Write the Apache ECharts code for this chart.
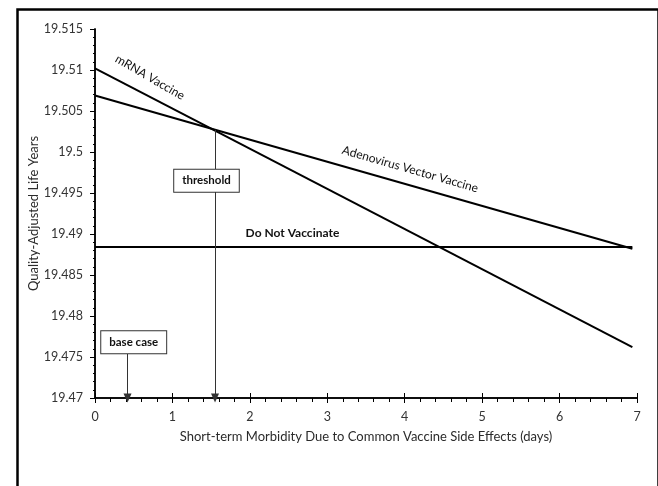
<!DOCTYPE html>
<html lang="en">
<head>
    <meta charset="UTF-8">
    <title>QALY vs short-term morbidity</title>
    <script src="https://cdn.jsdelivr.net/npm/echarts@6/dist/echarts.min.js"></script>
    <style>
        html, body { margin: 0; padding: 0; background: #fff; }
    </style>
</head>
<body>
<div id="main" style="width:658px;height:486px;"></div>
<script>
    // data
    var days = [0, 6.94];
    var mrnaQaly = [19.5102, 19.4762];
    var adenoQaly = [19.5069, 19.4882];
    var noVaxQaly = [19.4884, 19.4884];
    var thresholdPt = [1.55, 19.5027];
    var baseCaseDays = 0.42;

    var font = 'Lato';
    var ink = '#000';

    function pairs(ys) {
        return days.map(function (d, i) { return [d, ys[i]]; });
    }

    // text annotation placed at a data coordinate (rotate: counter-clockwise degrees)
    function tag(text, coord, rot, bold, boxed) {
        var lbl = {
            show: true, position: 'inside', formatter: text,
            fontFamily: font, fontSize: boxed ? 11.5 : 12,
            fontWeight: bold ? 'bold' : 'normal', color: '#111',
            rotate: rot
        };
        if (boxed) {
            lbl.backgroundColor = '#fff';
            lbl.borderColor = '#333';
            lbl.borderWidth = 1;
            lbl.padding = [5, 8, 5, 8];
        }
        return { coord: coord, symbolSize: 0, label: lbl };
    }

    var chart = echarts.init(document.getElementById('main'));

    var baseAxisX = {
        type: 'value', min: 0, max: 7, interval: 1,
        axisLine: { lineStyle: { color: ink, width: 1.5 } },
        splitLine: { show: false }
    };
    var baseAxisY = {
        type: 'value', min: 19.47, max: 19.515, interval: 0.005,
        axisLine: { lineStyle: { color: ink, width: 1.5 } },
        splitLine: { show: false }
    };

    var option = {
        animation: false,
        backgroundColor: '#fff',
        grid: { left: 95, right: 21, top: 29, bottom: 88 },
        graphic: [{
            type: 'rect', left: 15, top: 7,
            shape: { width: 641, height: 500 },
            style: { fill: 'none', stroke: '#000', lineWidth: 2.5 },
            silent: true
        }],
        xAxis: [
            Object.assign({}, baseAxisX, {
                name: 'Short-term Morbidity Due to Common Vaccine Side Effects (days)',
                nameLocation: 'middle', nameGap: 32,
                nameTextStyle: { fontFamily: font, fontSize: 13, color: '#2b2b2b' },
                axisTick: { show: true, length: 5, lineStyle: { color: ink } },
                minorTick: { show: true, splitNumber: 5, length: 4, lineStyle: { color: ink } },
                axisLabel: { fontFamily: font, fontSize: 12.5, color: '#333', margin: 12 }
            }),
            Object.assign({}, baseAxisX, {
                position: 'bottom',
                axisTick: { show: true, inside: true, length: 5, lineStyle: { color: ink } },
                minorTick: { show: false },
                axisLabel: { show: false }
            })
        ],
        yAxis: [
            Object.assign({}, baseAxisY, {
                name: 'Quality-Adjusted Life Years',
                nameLocation: 'middle', nameGap: 55, nameMoveOverlap: false,
                nameTextStyle: { fontFamily: font, fontSize: 13, color: '#2b2b2b' },
                axisTick: { show: true, length: 5, lineStyle: { color: ink } },
                minorTick: { show: true, splitNumber: 5, length: 2, lineStyle: { color: ink } },
                axisLabel: {
                    fontFamily: font, fontSize: 12.5, color: '#333', margin: 12,
                    formatter: function (v) { return String(parseFloat(v.toFixed(3))); }
                }
            }),
            Object.assign({}, baseAxisY, {
                position: 'left',
                axisTick: { show: false },
                minorTick: { show: true, inside: true, splitNumber: 5, length: 2, lineStyle: { color: ink } },
                axisLabel: { show: false }
            })
        ],
        series: [
            {
                name: 'mRNA Vaccine', type: 'line', data: pairs(mrnaQaly),
                symbol: 'none', lineStyle: { color: ink, width: 2 }
            },
            {
                name: 'Adenovirus Vector Vaccine', type: 'line', data: pairs(adenoQaly),
                symbol: 'none', lineStyle: { color: ink, width: 2 }
            },
            {
                name: 'Do Not Vaccinate', type: 'line', data: pairs(noVaxQaly),
                symbol: 'none', lineStyle: { color: ink, width: 2 },
                // threshold and base case arrows
                markLine: {
                    silent: true, symbol: ['none', 'triangle'], symbolSize: [8, 9],
                    lineStyle: { color: '#333', width: 1, type: 'solid' },
                    label: { show: false },
                    data: [
                        [{ coord: thresholdPt }, { coord: [thresholdPt[0], 19.47] }],
                        [{ coord: [baseCaseDays, 19.4754] }, { coord: [baseCaseDays, 19.47] }]
                    ]
                }
            },
            {
                type: 'line', data: [], z: 10,
                markPoint: {
                    silent: true, symbol: 'circle',
                    data: [
                        tag('mRNA Vaccine', [0.71, 19.5091], -30, false, false),
                        tag('Adenovirus Vector Vaccine', [4.07, 19.4979], -16, false, false),
                        tag('Do Not Vaccinate', [2.55, 19.4901], 0, true, false),
                        tag('threshold', [1.44, 19.4965], 0, true, true),
                        tag('base case', [0.5, 19.4768], 0, true, true)
                    ]
                }
            }
        ]
    };

    chart.setOption(option);
</script>
</body>
</html>
